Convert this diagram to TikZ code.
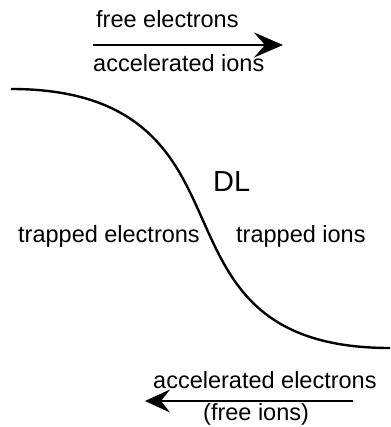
\documentclass[tikz,border=0pt]{standalone}
\usepackage{fontspec}
\setmainfont{Liberation Sans}
\usetikzlibrary{arrows.meta}
\begin{document}
\begin{tikzpicture}[x=1pt,y=-1pt,
  lbl/.style={anchor=base west,inner sep=0pt,font=\fontsize{23.5}{28}\selectfont},
  flow/.style={line width=1.5pt},
  potential/.style={line width=2.4pt}]
\useasboundingbox (0,0) rectangle (390,427);
% upper flow arrow and its labels
\node[lbl] (fe) at (96,28) {free electrons};
\node[lbl] (ai) at (93,72) {accelerated ions};
\coordinate (a1s) at (93,45);
\coordinate (a1e) at (283,45);
\draw[flow,-{Stealth[length=29pt,width=25pt,inset=11pt]}] (a1s) -- (a1e);
% potential profile across the double layer
\coordinate (p0) at (11,89);
\coordinate (pm) at (205,225);
\coordinate (p1) at (390,348);
\draw[potential] (p0) .. controls (150,89) and (178,165) .. (pm)
  .. controls (232,285) and (262,348) .. (p1);
\node[lbl,font=\fontsize{29}{34}\selectfont] (dl) at (213,192) {DL};
\node[lbl] (te) at (18,242) {trapped electrons};
\node[lbl] (ti) at (236,242) {trapped ions};
% lower flow arrow and its labels
\node[lbl] (ae) at (153,388) {accelerated electrons};
\node[lbl] (fi) at (203,420) {(free ions)};
\coordinate (a2s) at (353,401);
\coordinate (a2e) at (145,401);
\draw[flow,-{Stealth[length=25pt,width=23pt,inset=9pt]}] (a2s) -- (a2e);
\end{tikzpicture}
\end{document}
